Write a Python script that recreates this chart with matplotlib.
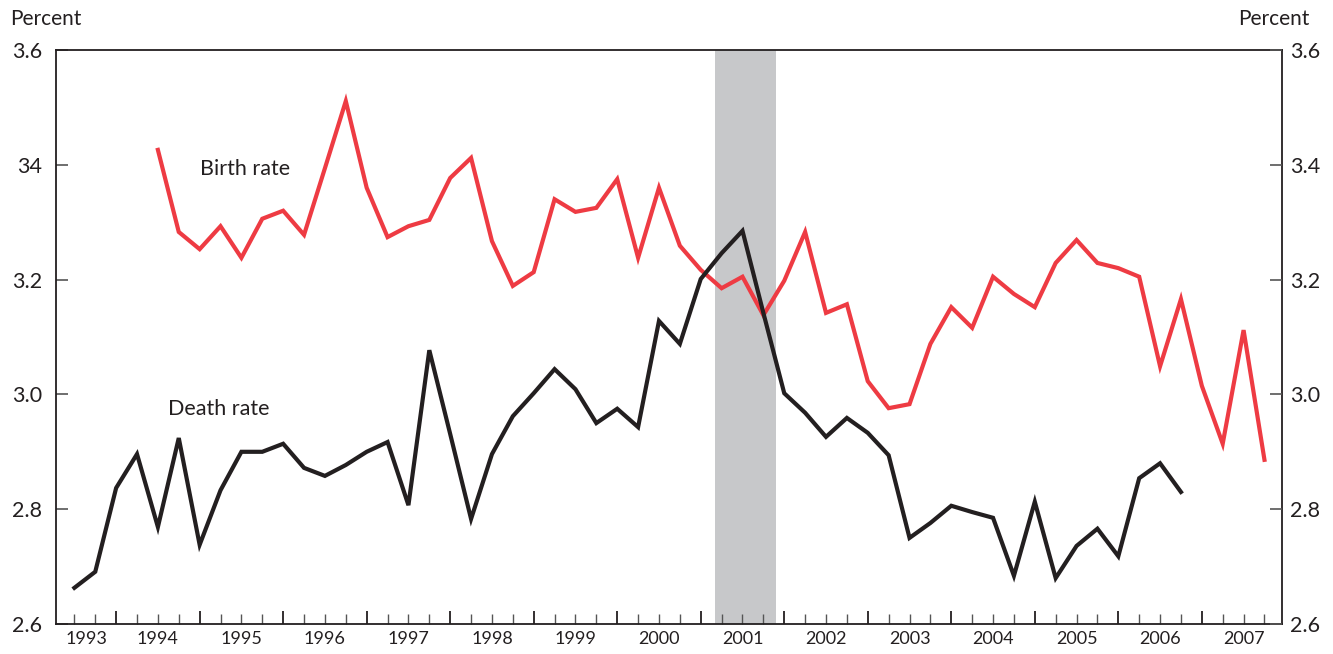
import numpy as np
import matplotlib
matplotlib.use("Agg")
import matplotlib.pyplot as plt
from matplotlib.ticker import FixedLocator
import matplotlib.transforms as mtransforms

plt.rcParams['font.family'] = ['Lato', 'DejaVu Sans']

# ---- data (quarterly, percent) ----
death_start = 1993.5   # first quarter plotted for death rate
death_rate = [2.663, 2.691, 2.837, 2.896, 2.769, 2.924, 2.738, 2.833,
              2.900, 2.900, 2.914, 2.872, 2.858, 2.877, 2.900, 2.917,
              2.807, 3.077, 2.931, 2.783, 2.896, 2.962, 3.002, 3.044,
              3.009, 2.950, 2.975, 2.943, 3.128, 3.088, 3.201, 3.246,
              3.285, 3.142, 3.002, 2.968, 2.926, 2.959, 2.933, 2.894,
              2.750, 2.776, 2.806, 2.795, 2.785, 2.684, 2.813, 2.680,
              2.736, 2.766, 2.718, 2.854, 2.880, 2.830]

birth_start = 1994.5   # first quarter plotted for birth rate
birth_rate = [3.426, 3.283, 3.253, 3.293, 3.238, 3.306, 3.320, 3.278,
              3.394, 3.511, 3.360, 3.274, 3.293, 3.304, 3.377, 3.412,
              3.267, 3.189, 3.213, 3.340, 3.318, 3.325, 3.375, 3.238,
              3.360, 3.259, 3.217, 3.185, 3.205, 3.138, 3.198, 3.283,
              3.142, 3.157, 3.023, 2.976, 2.983, 3.088, 3.152, 3.116,
              3.205, 3.175, 3.152, 3.229, 3.269, 3.229, 3.220, 3.205,
              3.049, 3.166, 3.015, 2.914, 3.112, 2.886]

y_ticks = [2.6, 2.8, 3.0, 3.2, 3.4, 3.6]
y_left_labels = ["2.6", "2.8", "3.0", "3.2", "34", "3.6"]
y_right_labels = ["2.6", "2.8", "3.0", "3.2", "3.4", "3.6"]
years = list(range(1993, 2008))
recession = (2001.17, 2001.90)

RED = "#EE3B43"
BLACK = "#231F20"
GREY = "#C7C8CA"
TXT = "#231F20"

fig = plt.figure(figsize=(13.33, 6.54), dpi=100)
ax = fig.add_axes([56 / 1333, 1 - 624 / 654, (1282 - 56) / 1333, (624 - 50) / 654])

xmin, xmax = 1993.28, 2007.96
ax.set_xlim(xmin, xmax)
ax.set_ylim(2.6, 3.6)

ax.axvspan(recession[0], recession[1], color=GREY, lw=0, zorder=1)

dx = death_start + 0.25 * np.arange(len(death_rate))
bx = birth_start + 0.25 * np.arange(len(birth_rate))
ax.plot(bx, birth_rate, color=RED, lw=3.0, solid_joinstyle='miter', zorder=3)
ax.plot(dx, death_rate, color=BLACK, lw=3.0, solid_joinstyle='miter', zorder=3)

for s in ax.spines.values():
    s.set_color(BLACK)
    s.set_linewidth(1.3)

# x ticks
major = [y for y in years if xmin < y < xmax]
minor = [y + q / 4 for y in years for q in (1, 2, 3) if xmin < y + q / 4 < xmax]
ax.xaxis.set_major_locator(FixedLocator(major))
ax.xaxis.set_minor_locator(FixedLocator(minor))
ax.tick_params(axis='x', which='major', direction='in', length=9.5, width=1.3,
               color=BLACK, labelbottom=False)
ax.tick_params(axis='x', which='minor', direction='in', length=7, width=1.0,
               color="#555555", labelbottom=False)

trans = mtransforms.blended_transform_factory(ax.transData, ax.transAxes)
for yr in years:
    xc = yr + 0.5
    if yr == years[0]:
        xc = xmin + 0.37
    ax.text(xc, -0.026, str(yr), transform=trans, ha='center', va='center',
            fontsize=13, color=TXT)

# y ticks left
ax.set_yticks(y_ticks)
ax.set_yticklabels(y_left_labels)
ax.tick_params(axis='y', which='major', direction='in', length=8.6, width=1.2,
               color="#555555", labelsize=15.5, labelcolor=TXT, pad=10)

axr = ax.twinx()
axr.set_ylim(2.6, 3.6)
axr.set_yticks(y_ticks)
axr.set_yticklabels(y_right_labels)
axr.tick_params(axis='y', which='major', direction='in', length=8.6, width=1.2,
                color="#555555", labelsize=15.5, labelcolor=TXT, pad=6)
for s in axr.spines.values():
    s.set_visible(False)

fig.text(10 / 1333, 1 - 19 / 654, "Percent", ha='left', va='center', fontsize=15, color=TXT)
fig.text(1310 / 1333, 1 - 19 / 654, "Percent", ha='right', va='center', fontsize=15, color=TXT)

fig.text(245 / 1333, 1 - 169 / 654, "Birth rate", ha='center', va='center', fontsize=15.5, color=TXT)
fig.text(219 / 1333, 1 - 409 / 654, "Death rate", ha='center', va='center', fontsize=15.5, color=TXT)

fig.savefig("out.png", dpi=100)
